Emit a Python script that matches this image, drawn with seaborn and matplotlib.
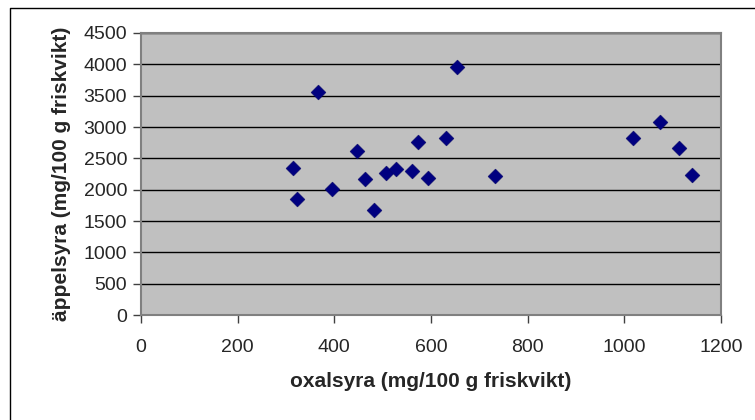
import matplotlib
matplotlib.use("Agg")
import matplotlib.pyplot as plt
import matplotlib.lines as mlines
import pandas as pd
import seaborn as sns

sns.set_style("white")
plt.rcParams['font.family'] = ['Liberation Sans', 'DejaVu Sans']

# oxalsyra vs äppelsyra (mg/100 g friskvikt)
oxalsyra = [315, 323, 367, 396, 447, 464, 483, 507, 528, 561, 573, 594, 632, 654, 733,
            1017, 1074, 1113, 1139]
appelsyra = [2345, 1856, 3553, 2011, 2622, 2170, 1671, 2261, 2335, 2298, 2765, 2186, 2824,
             3953, 2218, 2829, 3085, 2670, 2229]

df = pd.DataFrame({'oxalsyra': oxalsyra, 'appelsyra': appelsyra})

fig = plt.figure(figsize=(7.55, 4.2), dpi=100)
ax = fig.add_axes([141/755, 1 - 315/420, (721-141)/755, (315-33)/420])
ax.set_facecolor('#c0c0c0')

sns.scatterplot(data=df, x='oxalsyra', y='appelsyra', marker='D', s=58,
                color='#000080', edgecolor='#000060', linewidth=0.3, ax=ax, zorder=3)

ax.set_xlim(0, 1200)
ax.set_ylim(0, 4500)
ax.set_xticks(range(0, 1201, 200))
ax.set_yticks(range(0, 4501, 500))
ax.yaxis.grid(True, color='black', linewidth=1)
ax.set_axisbelow(True)
for s in ax.spines.values():
    s.set_color('#808080')
    s.set_linewidth(1.5)
ax.tick_params(axis='both', direction='out', length=6, width=1, color='#404040',
               labelsize=14, left=True, bottom=True)
ax.tick_params(axis='x', pad=11)
ax.tick_params(axis='y', pad=4)
ax.set_xlabel('oxalsyra (mg/100 g friskvikt)', fontsize=15, fontweight='bold', labelpad=12)
ax.set_ylabel('äppelsyra (mg/100 g friskvikt)', fontsize=15, fontweight='bold', labelpad=9)

# outer chart frame (only left and top edges fall inside the image)
fig.lines.append(mlines.Line2D([10/755, 10/755, 1.0], [0.0, 1 - 8/420, 1 - 8/420],
                               transform=fig.transFigure, color='black', linewidth=1))

fig.savefig('out.png', dpi=100)
